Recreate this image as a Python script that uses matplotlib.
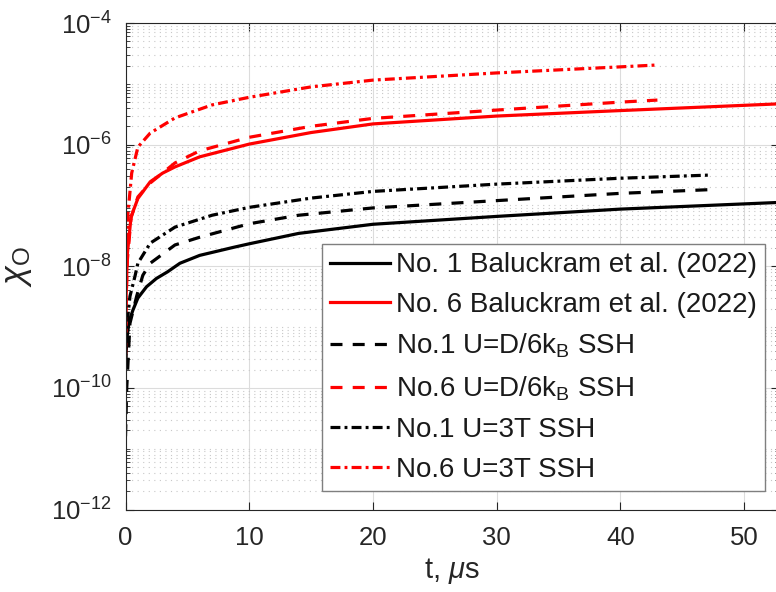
import math
import matplotlib
matplotlib.use("Agg")
import matplotlib.pyplot as plt

plt.rcParams['font.family'] = ['Liberation Sans', 'DejaVu Sans']
plt.rcParams['mathtext.fontset'] = 'custom'
plt.rcParams['mathtext.rm'] = 'Liberation Sans'
plt.rcParams['mathtext.it'] = 'Liberation Sans:italic'
plt.rcParams['mathtext.bf'] = 'Liberation Sans:bold'

# ---- data ----
t_no1_bal = [0, 0.1, 0.3, 0.6, 1.0, 1.7, 2.5, 3.4, 4.4, 6, 8.7, 10, 14, 20, 30, 40, 52.8]
y_no1_bal = [2.2e-10, 6.3e-10, 1.26e-9, 1.9e-9, 3.0e-9, 4.6e-9, 6.3e-9, 8.1e-9, 1.12e-8,
             1.51e-8, 2.04e-8, 2.34e-8, 3.47e-8, 4.9e-8, 6.6e-8, 8.7e-8, 1.12e-7]

t_no6_bal = [0, 0.05, 0.15, 0.45, 1, 2, 3, 4, 6, 10, 15, 20, 30, 40, 52.8]
y_no6_bal = [3.2e-10, 3.2e-9, 1.6e-8, 6.5e-8, 1.3e-7, 2.45e-7, 3.4e-7, 4.3e-7, 6.3e-7,
             1.02e-6, 1.58e-6, 2.19e-6, 2.95e-6, 3.63e-6, 4.68e-6]

t_no1_d6 = [0, 0.1, 0.36, 0.9, 1.4, 2, 4, 6, 10, 14, 20, 30, 40, 47.3]
y_no1_d6 = [1.6e-11, 1.0e-10, 1.15e-9, 3.2e-9, 7.1e-9, 1.12e-8, 2.24e-8, 3.0e-8, 5.0e-8,
            6.9e-8, 9.1e-8, 1.2e-7, 1.58e-7, 1.82e-7]

t_no6_d6 = [0, 0.05, 0.15, 0.45, 1, 2, 4, 6, 10, 15, 20, 30, 40, 43]
y_no6_d6 = [3.5e-10, 2.5e-9, 1.26e-8, 6.3e-8, 1.38e-7, 2.34e-7, 5.0e-7, 7.9e-7, 1.32e-6,
            2.0e-6, 2.7e-6, 3.7e-6, 5.0e-6, 5.4e-6]

t_no1_3t = [0, 0.1, 0.36, 0.77, 1, 2, 4, 7, 10, 15, 20, 30, 40, 47.3]
y_no1_3t = [2.5e-10, 1.0e-9, 3.2e-9, 6.9e-9, 1.12e-8, 2.4e-8, 4.4e-8, 6.9e-8, 9.3e-8,
            1.32e-7, 1.7e-7, 2.24e-7, 2.8e-7, 3.16e-7]

t_no6_3t = [0, 0.05, 0.2, 0.5, 1, 2, 4, 7, 10, 15, 20, 30, 40, 43]
y_no6_3t = [1.0e-9, 1.0e-8, 7.4e-8, 3.4e-7, 9.1e-7, 1.55e-6, 2.75e-6, 4.5e-6, 6.0e-6,
            8.9e-6, 1.15e-5, 1.51e-5, 1.9e-5, 2.04e-5]

labels = ['No. 1 Baluckram et al. (2022)',
          'No. 6 Baluckram et al. (2022)',
          r'No.1 U=D/6k$_{\mathrm{B}}$ SSH',
          r'No.6 U=D/6k$_{\mathrm{B}}$ SSH',
          'No.1 U=3T SSH',
          'No.6 U=3T SSH']

x_ticks = [0, 10, 20, 30, 40, 50]
y_major = [1e-12, 1e-10, 1e-8, 1e-6, 1e-4]

# ---- figure ----
W, H = 776, 592
fig = plt.figure(figsize=(W / 100, H / 100), dpi=100)
left, right, bottom, top = 125.5, 779, 509.5, 23
ax = fig.add_axes([left / W, (H - bottom) / H, (right - left) / W, (bottom - top) / H])

lw = 2.3
dash = (0, (3.75, 3.2))
dashdot = (0, (3.1, 1.3, 0.9, 1.3))

ax.plot(t_no1_bal, y_no1_bal, color='black', lw=lw, ls='-', label=labels[0])
ax.plot(t_no6_bal, y_no6_bal, color='red', lw=lw, ls='-', label=labels[1])
ax.plot(t_no1_d6, y_no1_d6, color='black', lw=lw, ls=dash, label=labels[2])
ax.plot(t_no6_d6, y_no6_d6, color='red', lw=lw, ls=dash, label=labels[3])
ax.plot(t_no1_3t, y_no1_3t, color='black', lw=lw, ls=dashdot, label=labels[4])
ax.plot(t_no6_3t, y_no6_3t, color='red', lw=lw, ls=dashdot, label=labels[5])

ax.set_yscale('log')
ax.set_xlim(0, (right - left) / 12.37)
ax.set_ylim(1e-12, 1e-4)

ax.set_xticks(x_ticks)
ax.set_xticklabels([str(v) for v in x_ticks])
ax.set_yticks(y_major)
ax.set_yticklabels([r'$10^{%d}$' % round(math.log10(v)) for v in y_major])
minor = []
for e in range(-12, -4):
    for s in range(1, 10):
        if s == 1 and e % 2 == 0:
            continue
        minor.append(s * 10.0 ** e)
ax.set_yticks(minor, minor=True)
ax.yaxis.set_minor_formatter(matplotlib.ticker.NullFormatter())

ax.tick_params(axis='both', which='both', direction='in', top=True, right=True,
               labelsize=18.5, colors='#262626')
ax.tick_params(axis='y', which='major', length=6, width=0.8, pad=10)
ax.tick_params(axis='x', which='major', length=6, width=0.8, pad=12)
ax.tick_params(axis='y', which='minor', length=3, width=0.6)
ax.tick_params(axis='x', which='minor', length=0)

ax.grid(True, which='major', axis='both', color='#dcdcdc', lw=0.8, ls='-')
ax.grid(True, which='minor', axis='y', color='#c8c8c8', lw=0.8, ls=(0, (1, 4)))
ax.set_axisbelow(True)

for sp in ax.spines.values():
    sp.set_color('#262626')
    sp.set_linewidth(0.8)

ax.set_xlabel(r't, $\mu$s', fontsize=21, color='#262626', labelpad=4)
ax.set_ylabel(r'$\chi_{\mathrm{O}}$', fontsize=25, color='#262626', labelpad=12)

leg = ax.legend(loc='lower right', bbox_to_anchor=(765 / W, (H - 491) / H),
                bbox_transform=fig.transFigure, borderaxespad=0, fontsize=20,
                handlelength=2.15, handletextpad=0.2, labelspacing=0.5,
                borderpad=0.3, fancybox=False, framealpha=1, edgecolor='#7f7f7f')
leg.get_frame().set_linewidth(1.0)
for txt in leg.get_texts():
    txt.set_color('#1a1a1a')

fig.savefig('out.png', dpi=100)
